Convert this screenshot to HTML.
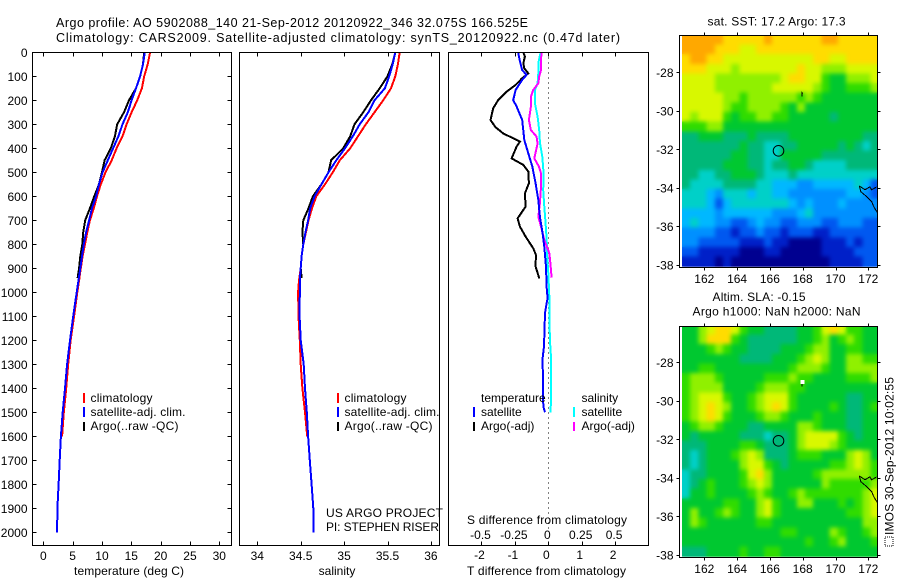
<!DOCTYPE html>
<html lang="en">
<head>
<meta charset="utf-8">
<title>Argo profile 5902088_140</title>
<style>
html,body{margin:0;padding:0;background:#fff;width:900px;height:580px;overflow:hidden}
svg{display:block;font-family:"Liberation Sans",sans-serif;font-size:12px;fill:#000}
polyline,rect,line{shape-rendering:crispEdges}
</style>
</head>
<body>
<svg id="chart" xmlns="http://www.w3.org/2000/svg" width="900" height="580" viewBox="0 0 900 580">
<defs>
<filter id="soften" x="0" y="0" width="100%" height="100%" color-interpolation-filters="sRGB">
<feGaussianBlur in="SourceGraphic" stdDeviation="2.2" result="b"/>
<feMerge><feMergeNode in="SourceGraphic"/><feMergeNode in="b"/></feMerge>
</filter>
</defs>
<text x="56" y="27" font-size="12.5" textLength="472" lengthAdjust="spacing">Argo profile: AO 5902088_140 21-Sep-2012 20120922_346 32.075S 166.525E</text>
<text x="56" y="42" font-size="12.5" textLength="564" lengthAdjust="spacing">Climatology: CARS2009. Satellite-adjusted climatology: synTS_20120922.nc (0.47d later)</text>

<g id="maps"></g>
<g id="plots"></g>

<g>
<rect x="83" y="393" width="2" height="10" fill="#f00"/>
<rect x="83" y="407" width="2" height="10" fill="#00f"/>
<rect x="83" y="422" width="2" height="9" fill="#000"/>
<text x="90.5" y="402" textLength="62" lengthAdjust="spacing">climatology</text>
<text x="90.5" y="416" textLength="95" lengthAdjust="spacing">satellite-adj. clim.</text>
<text x="90.5" y="430" textLength="88" lengthAdjust="spacing">Argo(..raw -QC)</text>
</g>
<g>
<rect x="337" y="393" width="2" height="10" fill="#f00"/>
<rect x="337" y="407" width="2" height="10" fill="#00f"/>
<rect x="337" y="422" width="2" height="9" fill="#000"/>
<text x="344.5" y="402" textLength="62" lengthAdjust="spacing">climatology</text>
<text x="344.5" y="416" textLength="95" lengthAdjust="spacing">satellite-adj. clim.</text>
<text x="344.5" y="430" textLength="88" lengthAdjust="spacing">Argo(..raw -QC)</text>
<text x="326" y="517" textLength="117" lengthAdjust="spacing">US ARGO PROJECT</text>
<text x="326" y="531" textLength="113" lengthAdjust="spacing">PI: STEPHEN RISER</text>
</g>
<g>
<text x="481" y="402">temperature</text>
<text x="481" y="416">satellite</text>
<text x="481" y="430">Argo(-adj)</text>
<rect x="473" y="407" width="2" height="10" fill="#00f"/>
<rect x="473" y="422" width="2" height="9" fill="#000"/>
<text x="581.5" y="402">salinity</text>
<text x="581.5" y="416">satellite</text>
<text x="581.5" y="430">Argo(-adj)</text>
<rect x="573" y="407" width="2" height="10" fill="#0ff"/>
<rect x="573" y="422" width="2" height="9" fill="#f0f"/>
</g>

<text x="129" y="575" text-anchor="middle" textLength="110" lengthAdjust="spacing">temperature (deg C)</text>
<text x="337" y="575" text-anchor="middle">salinity</text>
<text x="467" y="524" textLength="160" lengthAdjust="spacing">S difference from climatology</text>
<text x="467" y="575" textLength="159" lengthAdjust="spacing">T difference from climatology</text>

<text x="707.5" y="25.5" textLength="138" lengthAdjust="spacing">sat. SST: 17.2 Argo: 17.3</text>
<text x="712.5" y="301" textLength="93" lengthAdjust="spacing">Altim. SLA: -0.15</text>
<text x="692.5" y="315.5" textLength="168" lengthAdjust="spacing">Argo h1000: NaN h2000: NaN</text>

<rect x="885" y="537" width="8" height="9" fill="none" stroke="#000" stroke-width="1" stroke-dasharray="1 1"/>
<text transform="translate(893.5,535) rotate(-90)" textLength="158" lengthAdjust="spacing">IMOS 30-Sep-2012 10:02:55</text>
</svg>

<script>
/* ---------- profile data ---------- */
const depthsClim = [0,50,100,150,200,250,300,350,400,450,500,550,600,650,700,750,800,850,900,950,1000,1100,1200,1300,1400,1500,1600];
const depthsSat = [0,50,100,150,200,250,300,350,400,450,500,550,600,650,700,750,800,850,900,950,1000,1100,1200,1300,1400,1500,1600,1700,1800,1900,2000];
const depthsArgo = [0,50,100,150,200,250,300,350,400,450,500,550,600,650,700,750,800,850,900,940];

const tempClim = [18.2,17.8,17.2,16.8,16.0,15.05,14.2,13.5,12.5,11.65,10.6,9.8,9.15,8.6,7.95,7.5,7.1,6.7,6.4,6.1,5.8,5.25,4.65,4.25,3.9,3.5,3.2];
const tempSat = [17.3,17.0,16.5,15.8,15.05,14.4,13.5,12.8,11.9,11.0,10.1,9.5,9.0,8.3,7.8,7.3,6.9,6.6,6.3,6.0,5.7,5.1,4.55,4.05,3.7,3.3,3.0,2.8,2.6,2.4,2.35];
const tempArgo = [17.2,17.0,16.5,15.8,14.6,13.75,12.6,12.2,11.5,10.45,10.0,9.5,8.7,7.95,7.15,6.8,6.65,6.3,6.1,5.85];

const salClim = [35.64,35.62,35.59,35.54,35.45,35.35,35.25,35.16,35.07,34.95,34.87,34.78,34.68,34.63,34.59,34.56,34.53,34.51,34.5,34.48,34.47,34.475,34.49,34.5,34.52,34.55,34.575];
const salSat = [35.59,35.56,35.52,35.47,35.35,35.28,35.18,35.10,35.01,34.91,34.82,34.74,34.66,34.61,34.585,34.555,34.53,34.51,34.5,34.49,34.49,34.487,34.5,34.535,34.55,34.57,34.585,34.605,34.625,34.645,34.65];
const salArgo = [35.59,35.555,35.5,35.41,35.31,35.22,35.12,35.07,34.99,34.85,34.82,34.74,34.64,34.59,34.53,34.52,34.53,34.51,34.5,34.51];

const depthsDiffTArgo = [0,18,46,67,88,108,136,164,185,199,233,282,312,338,372,393,442,469,497,546,588,643,692,726,768,817,844,893,942];
const diffTArgo = [-0.75,-0.7,-0.75,-0.72,-0.6,-0.78,-0.98,-1.25,-1.4,-1.5,-1.65,-1.73,-1.58,-1.35,-0.85,-0.95,-1.1,-0.75,-0.6,-0.58,-0.7,-0.68,-0.92,-0.85,-0.68,-0.45,-0.37,-0.38,-0.27];
const depthsDiffTSat = [0,32,74,94,115,157,199,226,282,365,421,476,546,615,685,754,810,893,976,1025,1046,1087,1226,1275,1476,1500];
const diffTSat = [-0.9,-0.86,-0.78,-0.65,-0.78,-0.98,-1.05,-0.95,-0.78,-0.72,-0.6,-0.48,-0.38,-0.3,-0.25,-0.17,-0.12,-0.07,-0.05,-0.02,-0.05,-0.1,-0.13,-0.17,-0.15,-0.1];
const depthsDiffSSat = [0,46,88,129,157,213,268,324,379,435,504,574,643,713,782,851,921,1025,1129,1226,1282,1448,1501];
const diffSSat = [-0.058,-0.075,-0.075,-0.08,-0.1,-0.1,-0.08,-0.068,-0.062,-0.045,-0.035,-0.038,-0.03,-0.02,-0.012,-0.008,0,0.008,0.008,0.015,0.022,0.022,0.015];
const depthsDiffSArgo = [0,32,74,101,129,157,185,226,282,324,351,379,442,476,504,560,629,685,726,782,838,893,939];
const diffSArgo = [-0.05,-0.055,-0.055,-0.068,-0.075,-0.113,-0.13,-0.13,-0.145,-0.13,-0.088,-0.08,-0.105,-0.07,-0.055,-0.055,-0.063,-0.075,-0.055,-0.03,0.008,0.018,0.025];

/* ---------- tick labels ---------- */
const depthTicks = [0,100,200,300,400,500,600,700,800,900,1000,1100,1200,1300,1400,1500,1600,1700,1800,1900,2000];
const tempTicks = [0,5,10,15,20,25,30];
const salTicks = [34,34.5,35,35.5,36];
const diffTTicks = [-2,-1,0,1,2];
const diffSTicks = [-0.5,-0.25,0,0.25,0.5];
const lonTicks = [162,164,166,168,170,172];
const latTicks = [-28,-30,-32,-34,-36,-38];

/* ---------- map data: colour level per 0.5 degree cell, north to south ---------- */
const mapLons = [160.64,161.14,161.64,162.14,162.64,163.14,163.64,164.14,164.64,165.14,165.64,166.14,166.64,167.14,167.64,168.14,168.64,169.14,169.64,170.14,170.64,171.14,171.64,172.14];
const mapLats = [-26.06,-26.56,-27.06,-27.56,-28.06,-28.56,-29.06,-29.56,-30.06,-30.56,-31.06,-31.56,-32.06,-32.56,-33.06,-33.56,-34.06,-34.56,-35.06,-35.56,-36.06,-36.56,-37.06,-37.56];
const sstCells = [
[12,12,12,12,12,11,11,11,11,11,12,11,11,11,11,11,11,12,12,11,11,11,11,11],
[12,12,12,12,11,11,11,10,10,11,11,11,11,11,11,11,11,11,11,11,11,11,11,11],
[11,12,12,11,11,10,10,10,10,10,10,10,10,10,10,10,11,11,10,10,11,11,11,11],
[11,11,11,10,10,10,9,10,10,10,10,10,10,10,11,10,10,9,9,9,10,10,10,10],
[10,10,10,10,9,9,9,9,9,9,9,9,10,11,11,10,10,8,7,7,9,9,9,10],
[10,10,10,10,9,9,9,9,9,9,9,10,10,10,10,10,9,8,7,7,8,8,8,9],
[10,10,10,10,10,9,9,8,9,9,9,9,9,9,8,9,8,7,7,7,7,7,7,7],
[10,10,10,10,10,9,8,8,9,9,9,9,8,7,9,7,7,7,7,7,7,7,7,7],
[10,9,10,10,10,8,7,8,8,9,9,8,8,7,7,7,7,7,6,7,7,7,7,7],
[8,8,8,9,9,7,7,7,7,7,7,7,7,7,7,7,7,7,7,7,7,7,7,7],
[6,6,7,7,7,6,6,6,7,6,6,6,6,7,7,7,7,7,7,7,7,7,6,6],
[6,6,6,6,6,6,6,7,6,6,5,5,6,6,7,7,7,7,7,6,7,6,5,6],
[6,6,6,6,6,6,7,7,6,6,5,5,7,7,7,7,7,6,6,6,6,6,6,6],
[6,6,6,6,6,7,7,7,6,6,5,6,6,7,7,6,5,5,5,5,6,6,6,6],
[6,6,5,5,6,6,7,7,7,6,5,5,5,6,5,5,5,5,5,5,5,5,5,5],
[6,5,5,5,5,6,6,6,6,5,5,4,4,4,3,3,4,4,4,4,4,5,4,2],
[5,5,5,4,3,5,5,5,4,5,5,4,4,3,3,3,3,3,3,3,4,4,3,2],
[5,5,5,4,2,4,5,5,5,5,5,5,5,4,3,4,3,3,3,4,3,3,3,3],
[4,4,4,4,3,4,4,4,4,4,4,3,3,3,4,5,3,3,3,3,3,3,3,3],
[4,5,4,4,3,3,2,2,3,4,3,3,2,2,3,3,3,2,2,3,3,3,2,2],
[3,3,3,3,2,2,1,2,2,3,2,2,1,2,2,2,1,1,2,2,2,2,2,2],
[3,3,2,2,2,2,2,1,1,1,2,1,1,0,0,0,0,1,1,1,2,1,2,2],
[2,2,1,1,1,1,1,0,0,0,1,1,0,0,0,0,0,1,1,1,1,2,2,2],
[1,1,1,1,0,1,0,0,0,0,0,0,0,0,0,0,0,0,1,1,1,1,2,2]
];
const slaCells = [
[7,7,9,10,11,11,10,8,7,7,6,6,6,6,7,7,8,10,11,10,8,8,7,7],
[7,7,9,11,11,11,8,7,6,6,6,6,6,6,7,7,8,9,7,8,9,8,7,7],
[7,7,7,8,9,8,7,7,6,6,6,6,7,7,7,8,9,9,7,7,8,8,7,7],
[7,7,7,7,7,7,7,6,6,6,6,7,7,7,8,9,10,9,7,7,9,9,8,8],
[7,7,8,8,7,7,7,7,7,7,7,7,7,8,9,9,9,8,7,7,9,9,9,9],
[8,9,9,9,8,7,7,7,7,7,8,8,8,9,8,8,7,7,7,7,8,8,8,9],
[8,9,9,9,9,7,7,7,7,8,9,9,9,8,8,7,7,7,7,7,7,7,7,7],
[8,9,10,10,10,8,7,7,8,9,10,10,10,8,7,7,7,7,7,7,6,6,7,7],
[8,9,10,11,10,9,7,7,8,9,10,11,10,8,7,7,7,7,8,7,6,6,7,8],
[8,9,10,11,10,8,7,7,7,8,9,9,8,7,7,7,8,7,7,7,6,6,7,7],
[7,8,9,9,8,7,7,7,6,6,7,7,7,7,9,9,8,7,7,7,6,6,7,7],
[7,6,7,7,7,7,7,6,6,6,5,6,6,7,9,10,10,10,10,8,7,6,7,7],
[6,6,6,7,7,7,7,8,8,7,6,6,6,7,9,10,10,10,9,8,7,7,7,7],
[6,5,6,7,7,7,8,9,10,9,6,6,6,7,8,8,8,7,7,7,9,10,9,7],
[6,5,6,7,7,7,7,9,10,10,8,7,6,7,7,7,7,7,8,8,9,10,9,8],
[5,6,6,7,7,7,7,8,10,11,9,7,7,7,7,7,8,9,9,9,9,9,9,8],
[5,6,7,8,7,7,7,8,9,10,9,7,7,7,7,7,7,9,8,8,8,8,8,9],
[5,7,7,8,7,7,7,7,8,9,8,7,7,8,9,8,8,8,8,8,8,8,9,10],
[7,7,7,7,7,8,8,7,7,9,10,8,7,7,9,9,7,7,7,8,7,8,9,10],
[7,9,7,7,8,9,8,7,7,9,10,8,7,7,7,7,7,7,7,7,8,8,9,10],
[7,9,8,7,7,7,7,7,7,8,8,7,7,7,7,7,7,7,7,7,7,7,9,9],
[7,7,7,7,7,7,7,7,7,7,7,7,8,8,7,7,7,7,9,8,7,7,8,9],
[7,7,7,7,7,7,7,7,7,7,7,7,7,7,7,8,7,7,8,9,7,7,7,8],
[6,6,6,7,7,7,7,8,7,7,8,8,7,7,7,7,7,7,7,7,7,7,7,7]
];
const coastMainLon = [171.45,171.55,171.9,172.2,172.35,172.55];
const coastMainLat = [-33.9,-34.2,-34.45,-34.7,-35.0,-35.27];
const coastBranchLon = [171.45,171.8,172.1,172.2,172.5];
const coastBranchLat = [-33.9,-34.1,-33.94,-34.1,-33.95];
const islandLon = [167.95,167.95,168.0];
const islandLat = [-29.25,-29.05,-29.1];
const floatLon = 166.525;
const floatLat = -32.075;

const levelColors = ['#000090','#0020c8','#0058f0','#0090ff','#00b8ff','#00d0c8','#00b878','#00c830','#30dc00','#90f000','#d8f800','#ffdc00','#ffa800'];

/* ---------- axis functions ---------- */
const depthY = d => 52.3 + d * 0.24;
const tempX = v => 43.3 + v * 5.867;
const salX = v => 257.3 + (v - 34) * 86.8;
const diffX = v => 548.3 + v * 33.4;
const diffSX = v => diffX(v * 4);
const lonX = v => 704.3 + (v - 162) * 16.4;
const latY1 = v => 72.3 + (-28 - v) * 19.27;
const latY2 = v => 362.3 + (-28 - v) * 19.27;

const NS = 'http://www.w3.org/2000/svg';
function mk(tag, attrs, parent) {
  const el = document.createElementNS(NS, tag);
  for (const k in attrs) el.setAttribute(k, attrs[k]);
  parent.appendChild(el);
  return el;
}
const plots = document.getElementById('plots');
const maps = document.getElementById('maps');

function series(depths, vals, xf, color, name) {
  const pts = depths.map((d, i) => xf(vals[i]).toFixed(1) + ',' + depthY(d).toFixed(1)).join(' ');
  const el = mk('polyline', {points: pts, fill: 'none', stroke: color, 'stroke-width': 2}, plots);
  
  
}
function frame(x, y, w, h, name) {
  const el = mk('rect', {x: x + 0.5, y: y + 0.5, width: w, height: h, fill: 'none', stroke: '#000', 'stroke-width': 1}, plots);
  
  
}
function tick(x1, y1, x2, y2) {
  const el = mk('line', {x1: Math.round(x1) + 0.5, y1: Math.round(y1) + 0.5, x2: Math.round(x2) + 0.5, y2: Math.round(y2) + 0.5, stroke: '#000', 'stroke-width': 1}, plots);
  
  
}
function label(x, y, text, anchor) {
  const el = mk('text', {x: x, y: y, 'text-anchor': anchor}, plots);
  el.textContent = text;
  
  
}

/* ---------- maps ---------- */
function drawMap(cells, latY, top, bottom, name) {
  const g = mk('g', {}, maps);
  
  
  const field = mk('g', {filter: 'url(#soften)'}, g);
  
  
  cells.forEach((row, r) => row.forEach((lvl, c) => {
    const x0 = lonX(mapLons[c]);
    const x1 = Math.min(lonX(mapLons[c] + 0.5), 877);
    const y0 = Math.max(latY(mapLats[r]), top);
    const y1 = Math.min(latY(mapLats[r] - 0.5), bottom);
    const cell = mk('rect', {x: x0.toFixed(1), y: y0.toFixed(1), width: (x1 - x0 + 0.5).toFixed(1), height: (y1 - y0 + 0.5).toFixed(1), fill: levelColors[lvl]}, field);
    
    
  }));
  const pathPts = (lons, lats) => lons.map((v, i) => lonX(v).toFixed(1) + ',' + latY(lats[i]).toFixed(1)).join(' ');
  const coast1 = mk('polyline', {points: pathPts(coastMainLon, coastMainLat), fill: 'none', stroke: '#000', 'stroke-width': 1}, g);
  
  
  const coast2 = mk('polyline', {points: pathPts(coastBranchLon, coastBranchLat), fill: 'none', stroke: '#000', 'stroke-width': 1}, g);
  
  
  const island = mk('polyline', {points: pathPts(islandLon, islandLat), fill: 'none', stroke: '#000', 'stroke-width': 1}, g);
  
  
  const marker = mk('circle', {cx: lonX(floatLon), cy: latY(floatLat), r: 5.3, fill: 'none', stroke: '#000', 'stroke-width': 1}, g);
  
  
}
drawMap(sstCells, latY1, 35.5, 267, 'sst-map');
drawMap(slaCells, latY2, 326, 557.5, 'sla-map');
const gap = mk('rect', {x: lonX(168) - 2, y: latY2(-29) - 1.5, width: 4, height: 4, fill: '#fff'}, maps);



/* ---------- series ---------- */
series(depthsClim, tempClim, tempX, '#f00', 'temperature-climatology-line');
series(depthsArgo, tempArgo, tempX, '#000', 'temperature-argo-line');
series(depthsSat, tempSat, tempX, '#00f', 'temperature-satellite-line');
series(depthsClim, salClim, salX, '#f00', 'salinity-climatology-line');
series(depthsArgo, salArgo, salX, '#000', 'salinity-argo-line');
series(depthsSat, salSat, salX, '#00f', 'salinity-satellite-line');

const zero = mk('line', {x1: diffX(0), y1: depthY(0), x2: diffX(0), y2: depthY(2000), stroke: '#000', 'stroke-width': 1, 'stroke-dasharray': '1 4'}, plots);



series(depthsDiffSSat, diffSSat, diffSX, '#0ff', 'salinity-difference-satellite-line');
series(depthsDiffSArgo, diffSArgo, diffSX, '#f0f', 'salinity-difference-argo-line');
series(depthsDiffTArgo, diffTArgo, diffX, '#000', 'temperature-difference-argo-line');
series(depthsDiffTSat, diffTSat, diffX, '#00f', 'temperature-difference-satellite-line');

/* ---------- frames, ticks, labels ---------- */
frame(32, 52, 199, 493, 'temperature-panel-frame');
frame(239, 52, 200, 493, 'salinity-panel-frame');
frame(448, 52, 200, 493, 'difference-panel-frame');
frame(679, 35, 198, 232, 'sst-map-frame');
frame(679, 326, 198, 231, 'sla-map-frame');

depthTicks.forEach(d => {
  tick(32, depthY(d), 36, depthY(d));
  tick(231, depthY(d), 227, depthY(d));
  label(27.5, depthY(d) + 4.5, String(d), 'end');
});
tempTicks.forEach(v => {
  tick(tempX(v), 52, tempX(v), 56);
  tick(tempX(v), 545, tempX(v), 541);
  label(tempX(v), 560, String(v), 'middle');
});
salTicks.forEach(v => {
  tick(salX(v), 52, salX(v), 56);
  tick(salX(v), 545, salX(v), 541);
  label(salX(v), 560, String(v), 'middle');
});
diffTTicks.forEach(v => {
  tick(diffX(v), 52, diffX(v), 56);
  tick(diffX(v), 545, diffX(v), 541);
  label(diffX(v) - 2, 559, String(v), 'middle');
});
diffSTicks.forEach(v => {
  label(diffSX(v) - 1, 539, String(v), 'middle');
});
function mapAxes(latY, top, bottom, lonLabelY) {
  lonTicks.forEach(v => {
    tick(lonX(v), top, lonX(v), top - 3);
    tick(lonX(v), bottom, lonX(v), bottom + 3);
    label(lonX(v), lonLabelY, String(v), 'middle');
  });
  latTicks.forEach(v => {
    tick(679, latY(v), 676, latY(v));
    tick(877, latY(v), 880, latY(v));
    label(673.5, latY(v) + 4.5, String(v), 'end');
  });
}
mapAxes(latY1, 35, 267, 283);
mapAxes(latY2, 326, 557, 573);
</script>
</body>
</html>
